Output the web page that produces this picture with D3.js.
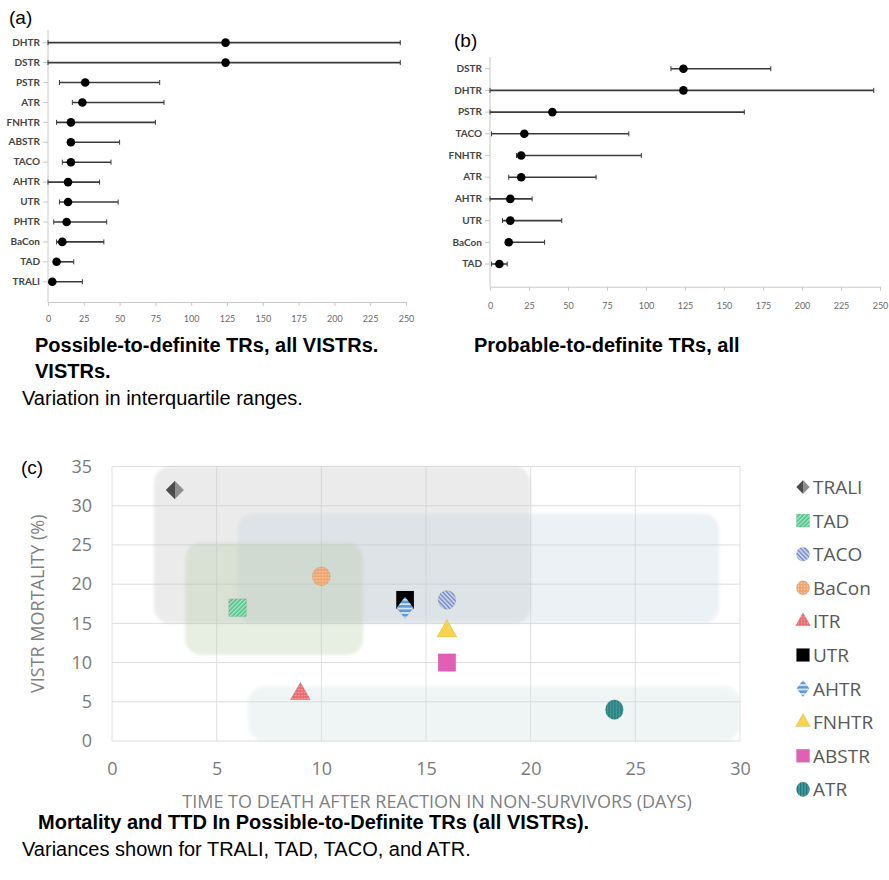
<!DOCTYPE html>
<html>
<head>
<meta charset="utf-8">
<script src="https://cdn.jsdelivr.net/npm/d3@7"></script>
<style>
body { margin: 0; background: #fff; }
svg { display: block; }
</style>
</head>
<body>
<div class="fig"></div>
<script>
// (a) possible-to-definite: median TTD with IQR (days)
var catsA = ['DHTR', 'DSTR', 'PSTR', 'ATR', 'FNHTR', 'ABSTR', 'TACO', 'AHTR', 'UTR', 'PHTR', 'BaCon', 'TAD', 'TRALI'];
var medA  = [124, 124, 26, 24, 16, 16, 16, 14, 14, 13, 10, 6, 3];
var lowA  = [0, 0, 8, 17, 6, 14, 10, 0, 8, 4, 6, 4, 1];
var highA = [246, 246, 78, 81, 75, 50, 44, 36, 49, 41, 39, 18, 24];

// (b) probable-to-definite
var catsB = ['DSTR', 'DHTR', 'PSTR', 'TACO', 'FNHTR', 'ATR', 'AHTR', 'UTR', 'BaCon', 'TAD'];
var medB  = [124, 124, 40, 22, 20, 20, 13, 13, 12, 6];
var lowB  = [116, 0, 0, 1, 17, 12, 0, 8, 10, 1];
var highB = [180, 246, 163, 89, 97, 68, 27, 46, 35, 11];

var ticksAB = [0, 25, 50, 75, 100, 125, 150, 175, 200, 225, 250];

// (c) mortality vs time to death
var typesC = ['TRALI', 'TAD', 'TACO', 'BaCon', 'ITR', 'UTR', 'AHTR', 'FNHTR', 'ABSTR', 'ATR'];
var ttdC   = [3, 6, 16, 10, 9, 14, 14, 16, 16, 24];
var mortC  = [32, 17, 18, 21, 6, 18, 17, 14, 10, 4];

// variance boxes
var varNames = ['TRALI', 'TACO', 'TAD', 'ATR'];
var varX0 = [2, 6, 3.5, 6.5];
var varX1 = [20, 29, 12, 30];
var varY0 = [15, 15, 11, 0];
var varY1 = [35, 29, 25.3, 7];

var ticksCx = [0, 5, 10, 15, 20, 25, 30];
var ticksCy = [0, 5, 10, 15, 20, 25, 30, 35];

var svg = d3.select('.fig').append('svg')
    .attr('width', 889)
    .attr('height', 880);

var defs = svg.append('defs');

function stripes(id, bg, fg, angle, w, gap) {
  var p = defs.append('pattern')
      .attr('id', id)
      .attr('patternUnits', 'userSpaceOnUse')
      .attr('width', w + gap).attr('height', w + gap)
      .attr('patternTransform', 'rotate(' + angle + ')');
  p.append('rect').attr('width', w + gap).attr('height', w + gap).attr('fill', bg);
  p.append('rect').attr('width', w).attr('height', w + gap).attr('fill', fg);
}
function dots(id, bg, fg) {
  var p = defs.append('pattern')
      .attr('id', id)
      .attr('patternUnits', 'userSpaceOnUse')
      .attr('width', 3).attr('height', 3);
  p.append('rect').attr('width', 3).attr('height', 3).attr('fill', bg);
  p.append('circle').attr('cx', 1.5).attr('cy', 1.5).attr('r', 0.8).attr('fill', fg);
}
stripes('pTAD', '#4cbf88', '#a8e6c6', 45, 1.5, 1.5);
stripes('pTACO', '#7f94c6', '#c9d3ea', -45, 1.5, 1.5);
stripes('pAHTR', '#5a9bd5', '#d4e6f6', 90, 1.4, 2);
stripes('pATR', '#3e9c9c', '#2a7676', 0, 1.3, 1.7);
dots('pBaCon', '#f0a36c', '#f9d2b4');
dots('pITR', '#ec6a6a', '#f6b3b3');

var gTr = defs.append('linearGradient').attr('id', 'gTRALI');
gTr.append('stop').attr('offset', '50%').attr('stop-color', '#4c4c4c');
gTr.append('stop').attr('offset', '50%').attr('stop-color', '#8e8e8e');

var blur = defs.append('filter').attr('id', 'soft');
blur.append('feGaussianBlur').attr('stdDeviation', 1.5);

// diamond with equal diagonals
var diamond = {
  draw: function (ctx, size) {
    var r = Math.sqrt(size / 2);
    ctx.moveTo(0, -r); ctx.lineTo(r, 0); ctx.lineTo(0, r); ctx.lineTo(-r, 0); ctx.closePath();
  }
};

// ---------- dot + whisker panels ----------
function dotPanel(cats, med, low, high, xr, yr, yAxis, yTop, labelY) {
  var x = d3.scaleLinear().domain([0, 250]).range(xr);
  var y = d3.scaleBand().domain(cats).range(yr);
  var g = svg.append('g');

  g.append('line')
      .attr('x1', xr[0]).attr('x2', xr[0])
      .attr('y1', yTop).attr('y2', yAxis)
      .attr('stroke', '#c8c8c8');

  var ax = g.append('g')
      .attr('transform', 'translate(0,' + yAxis + ')')
      .call(d3.axisBottom(x).tickValues(ticksAB).tickSize(4).tickSizeOuter(0));
  ax.select('.domain').attr('stroke', '#c8c8c8');
  ax.selectAll('.tick line').attr('stroke', '#c8c8c8');
  ax.selectAll('.tick text')
      .attr('y', labelY)
      .attr('fill', '#6a6a6a')
      .style('font-family', 'Lato, sans-serif')
      .style('font-size', '9px');

  var ay = g.append('g')
      .attr('transform', 'translate(' + xr[0] + ',0)')
      .call(d3.axisLeft(y).tickSize(5).tickPadding(3));
  ay.select('.domain').remove();
  ay.selectAll('.tick line').attr('stroke', '#c8c8c8');
  ay.selectAll('.tick text')
      .attr('fill', '#454545')
      .style('font-family', 'Lato, sans-serif')
      .style('font-weight', 'bold')
      .style('font-size', '10px');

  var rows = g.selectAll('.row')
      .data(cats)
      .enter().append('g')
      .attr('transform', function (d) { return 'translate(0,' + (y(d) + y.bandwidth() / 2) + ')'; });

  rows.append('line')
      .attr('x1', function (d, i) { return x(low[i]); })
      .attr('x2', function (d, i) { return x(high[i]); })
      .attr('stroke', '#3a3a3a')
      .attr('stroke-width', 1.6);
  rows.append('line')
      .attr('x1', function (d, i) { return x(low[i]); })
      .attr('x2', function (d, i) { return x(low[i]); })
      .attr('y1', -2.5).attr('y2', 2.5)
      .attr('stroke', '#3a3a3a');
  rows.append('line')
      .attr('x1', function (d, i) { return x(high[i]); })
      .attr('x2', function (d, i) { return x(high[i]); })
      .attr('y1', -2.5).attr('y2', 2.5)
      .attr('stroke', '#3a3a3a');
  rows.append('circle')
      .attr('cx', function (d, i) { return x(med[i]); })
      .attr('r', 4.3)
      .attr('fill', '#000');
}

dotPanel(catsA, medA, lowA, highA, [48, 406], [32.7, 291.7], 302, 30, 14);
dotPanel(catsB, medB, lowB, highB, [490, 880], [57.85, 274.85], 286.7, 57, 16);

// ---------- scatter panel ----------
var xc = d3.scaleLinear().domain([0, 30]).range([112, 740]);
var yc = d3.scaleLinear().domain([0, 35]).range([741, 466.5]);
var gc = svg.append('g');

gc.selectAll('.vg')
    .data(ticksCx)
    .enter().append('line')
    .attr('x1', function (d) { return xc(d); })
    .attr('x2', function (d) { return xc(d); })
    .attr('y1', yc(0)).attr('y2', yc(35))
    .attr('stroke', '#e0e0e0');
gc.selectAll('.hg')
    .data(ticksCy)
    .enter().append('line')
    .attr('x1', xc(0)).attr('x2', xc(30))
    .attr('y1', function (d) { return yc(d); })
    .attr('y2', function (d) { return yc(d); })
    .attr('stroke', '#dcdcdc');

var boxFill = {TRALI: '#c0c0c0', TACO: '#c2d2e0', TAD: '#b2c8a2', ATR: '#cde0e0'};
gc.selectAll('.var')
    .data(varNames)
    .enter().append('rect')
    .attr('x', function (d, i) { return xc(varX0[i]); })
    .attr('y', function (d, i) { return yc(varY1[i]); })
    .attr('width', function (d, i) { return xc(varX1[i]) - xc(varX0[i]); })
    .attr('height', function (d, i) { return yc(varY0[i]) - yc(varY1[i]); })
    .attr('rx', 16)
    .attr('fill', function (d) { return boxFill[d]; })
    .attr('opacity', 0.3)
    .attr('filter', 'url(#soft)');

var ax = gc.append('g')
    .attr('transform', 'translate(0,' + (yc(0) + 18) + ')')
    .call(d3.axisBottom(xc).tickValues(ticksCx).tickSize(0));
ax.select('.domain').remove();
var ay = gc.append('g')
    .attr('transform', 'translate(' + (xc(0) - 17) + ',0)')
    .call(d3.axisLeft(yc).tickValues(ticksCy).tickSize(0));
ay.select('.domain').remove();
gc.selectAll('.tick text')
    .attr('fill', '#7a7a7a')
    .style('font-family', '"Open Sans", sans-serif')
    .style('font-size', '18px');

gc.append('text')
    .attr('transform', 'translate(44,' + yc(17.5) + ') rotate(-90)')
    .attr('text-anchor', 'middle')
    .attr('fill', '#7f7f7f')
    .style('font-family', '"Open Sans", sans-serif')
    .style('font-size', '18px')
    .text('VISTR MORTALITY (%)');
gc.append('text')
    .attr('x', 437).attr('y', 808)
    .attr('text-anchor', 'middle')
    .attr('fill', '#7f7f7f')
    .style('font-family', '"Open Sans", sans-serif')
    .style('font-size', '18px')
    .text('TIME TO DEATH AFTER REACTION IN NON-SURVIVORS (DAYS)');

var mk = {
  TRALI: {shape: diamond, size: 160, sy: 1, fill: 'url(#gTRALI)'},
  TAD:   {shape: d3.symbolSquare, size: 310, sy: 1, fill: 'url(#pTAD)'},
  TACO:  {shape: d3.symbolCircle, size: 250, sy: 1.05, fill: 'url(#pTACO)'},
  BaCon: {shape: d3.symbolCircle, size: 250, sy: 1.05, fill: 'url(#pBaCon)'},
  ITR:   {shape: d3.symbolTriangle, size: 175, sy: 1, fill: 'url(#pITR)'},
  UTR:   {shape: d3.symbolSquare, size: 310, sy: 1, fill: '#000'},
  AHTR:  {shape: diamond, size: 140, sy: 1.3, fill: 'url(#pAHTR)'},
  FNHTR: {shape: d3.symbolTriangle, size: 175, sy: 1, fill: '#f7d34e'},
  ABSTR: {shape: d3.symbolSquare, size: 310, sy: 1, fill: '#e160b6'},
  ATR:   {shape: d3.symbolCircle, size: 250, sy: 1.1, fill: 'url(#pATR)'}
};

function marker(sel, k, f) {
  var m = mk[k];
  sel.append('path')
      .attr('d', d3.symbol().type(m.shape).size(m.size * f))
      .attr('transform', 'scale(1,' + m.sy + ')')
      .attr('fill', m.fill)
      .attr('stroke', 'rgba(0,0,0,0.08)');
}
gc.selectAll('.pt')
    .data(typesC)
    .enter().append('g')
    .attr('transform', function (d, i) { return 'translate(' + xc(ttdC[i]) + ',' + yc(mortC[i]) + ')'; })
    .each(function (d) { marker(d3.select(this), d, 1); });

// legend
var lg = svg.append('g')
    .selectAll('g')
    .data(typesC)
    .enter().append('g')
    .attr('transform', function (d, i) { return 'translate(803,' + (487 + i * 33.6) + ')'; });
lg.each(function (d) { marker(d3.select(this), d, 0.55); });
lg.append('text')
    .attr('x', 10).attr('y', 7)
    .attr('fill', '#595959')
    .style('font-family', '"Open Sans", sans-serif')
    .style('font-size', '19px')
    .text(function (d) { return d; });

// ---------- labels and captions ----------
var cap = svg.append('g').style('font-family', '"Liberation Sans", Arial, sans-serif').attr('fill', '#000');
cap.append('text').attr('x', 9).attr('y', 24).style('font-size', '19px').text('(a)');
cap.append('text').attr('x', 454).attr('y', 47).style('font-size', '19px').text('(b)');
cap.append('text').attr('x', 21).attr('y', 474).style('font-size', '19px').text('(c)');
cap.append('text').attr('x', 35).attr('y', 352).style('font-size', '20px').style('font-weight', 'bold')
    .text('Possible-to-definite TRs, all VISTRs.');
cap.append('text').attr('x', 35).attr('y', 378).style('font-size', '20px').style('font-weight', 'bold')
    .text('VISTRs.');
cap.append('text').attr('x', 22).attr('y', 405).style('font-size', '20px')
    .text('Variation in interquartile ranges.');
cap.append('text').attr('x', 474).attr('y', 352).style('font-size', '20px').style('font-weight', 'bold')
    .text('Probable-to-definite TRs, all');
cap.append('text').attr('x', 38).attr('y', 829).style('font-size', '20px').style('font-weight', 'bold')
    .text('Mortality and TTD In Possible-to-Definite TRs (all VISTRs).');
cap.append('text').attr('x', 22).attr('y', 856).style('font-size', '20px')
    .text('Variances shown for TRALI, TAD, TACO, and ATR.');
</script>
</body>
</html>
